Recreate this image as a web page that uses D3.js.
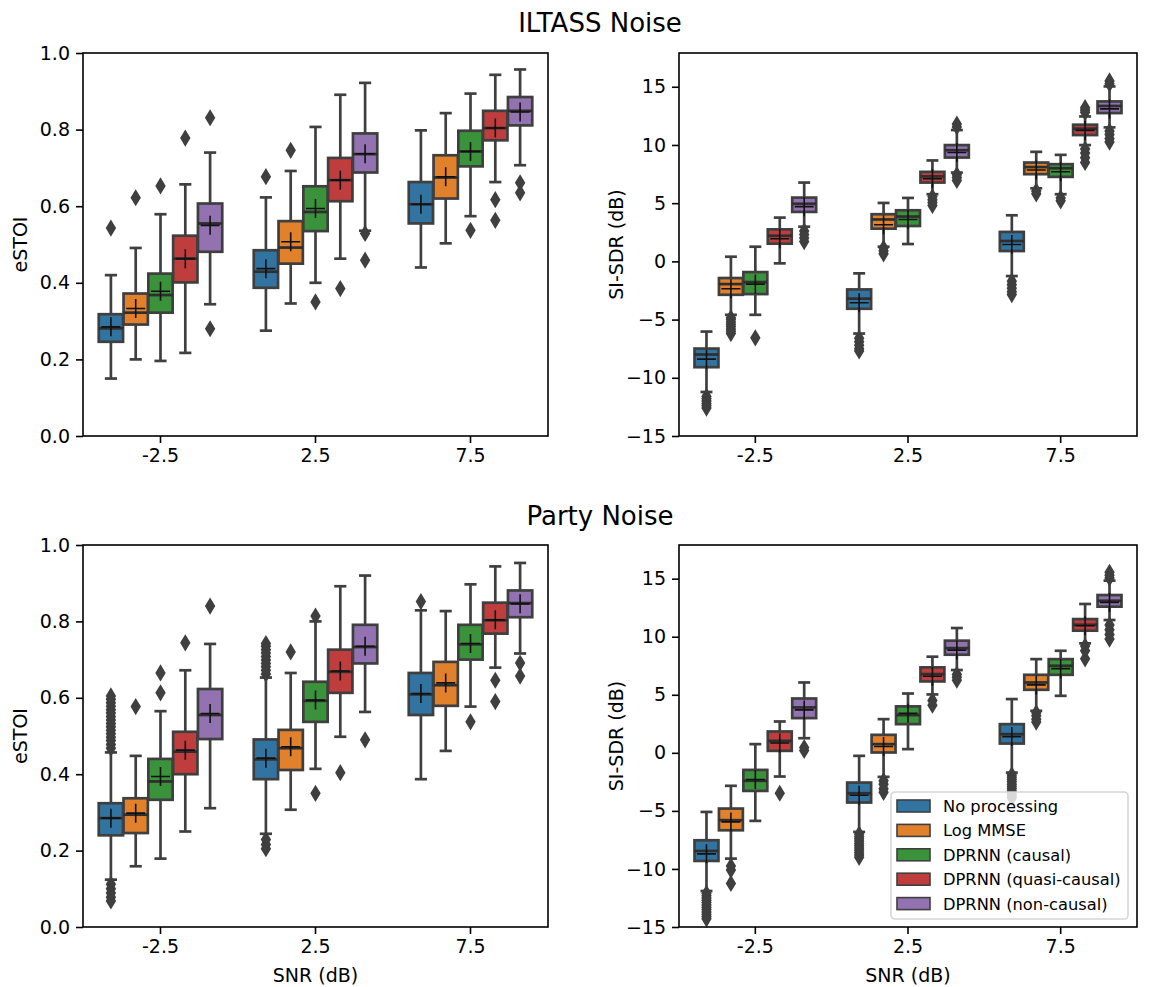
<!DOCTYPE html>
<html>
<head>
<meta charset="utf-8">
<script src="https://cdn.jsdelivr.net/npm/d3@7"></script>
<style>
  body { margin: 0; background: #fff; }
  svg { display: block; }
  text { font-family: "DejaVu Sans", sans-serif; fill: #000; }
</style>
</head>
<body>
<svg id="fig" width="1153" height="987"></svg>
<script>
// ---- categories and styling lists ----
const snrLevels = ["-2.5", "2.5", "7.5"];
const methods = ["No processing", "Log MMSE", "DPRNN (causal)", "DPRNN (quasi-causal)", "DPRNN (non-causal)"];
const methodColors = ["#3274a1", "#e1812c", "#3a923a", "#c03d3e", "#9372b2"];
const estoiTicks = [0.0, 0.2, 0.4, 0.6, 0.8, 1.0];
const sisdrTicks = [-15, -10, -5, 0, 5, 10, 15];

// ---- box statistics: [lower whisker, Q1, median, Q3, upper whisker, mean] ----
// indexed [SNR][method]
const iltassEstoi = [
  [[0.150, 0.246, 0.281, 0.318, 0.420, 0.285],
   [0.200, 0.291, 0.322, 0.372, 0.491, 0.333],
   [0.196, 0.322, 0.368, 0.424, 0.579, 0.378],
   [0.217, 0.401, 0.463, 0.523, 0.657, 0.463],
   [0.344, 0.481, 0.555, 0.607, 0.740, 0.550]],
  [[0.275, 0.387, 0.429, 0.485, 0.623, 0.437],
   [0.346, 0.450, 0.492, 0.561, 0.692, 0.507],
   [0.400, 0.535, 0.585, 0.652, 0.807, 0.594],
   [0.463, 0.613, 0.668, 0.726, 0.891, 0.668],
   [0.536, 0.688, 0.736, 0.790, 0.922, 0.737]],
  [[0.440, 0.555, 0.605, 0.663, 0.798, 0.605],
   [0.503, 0.620, 0.675, 0.733, 0.843, 0.677],
   [0.574, 0.704, 0.743, 0.797, 0.894, 0.743],
   [0.663, 0.772, 0.804, 0.849, 0.943, 0.804],
   [0.707, 0.811, 0.849, 0.885, 0.957, 0.846]]
];
const iltassEstoiFliers = [
  [[0.543], [0.622], [0.653], [0.778], [0.831, 0.280]],
  [[0.677], [0.746], [0.350], [0.385], [0.529, 0.459]],
  [[], [], [0.537], [0.617, 0.563], [0.661, 0.635]]
];

const iltassSisdr = [
  [[-11.22, -9.09, -8.00, -7.49, -6.03, -8.40],
   [-4.59, -2.87, -1.95, -1.43, 0.40, -2.35],
   [-4.59, -2.81, -1.78, -0.92, 1.26, -1.95],
   [-0.17, 1.52, 2.20, 2.75, 3.76, 1.95],
   [2.98, 4.25, 4.95, 5.48, 6.77, 4.70]],
  [[-6.20, -4.07, -3.20, -2.41, -1.03, -3.55],
   [1.26, 2.81, 3.60, 4.05, 5.02, 3.15],
   [1.49, 3.04, 3.85, 4.39, 5.45, 3.60],
   [5.77, 6.77, 7.30, 7.69, 8.67, 7.10],
   [7.63, 8.92, 9.55, 9.99, 11.28, 9.35]],
  [[-1.26, 0.89, 1.75, 2.53, 3.96, 1.45],
   [6.28, 7.49, 8.10, 8.49, 9.41, 7.85],
   [5.77, 7.26, 8.00, 8.35, 9.15, 7.70],
   [9.99, 10.85, 11.40, 11.74, 12.45, 11.25],
   [11.51, 12.74, 13.35, 13.74, 15.03, 13.10]]
];
const iltassSisdrFliers = [
  [[-11.6, -11.8, -12.0, -12.2, -12.4, -12.6],
   [-4.85, -5.0, -5.2, -5.4, -5.6, -5.8, -6.0, -6.2],
   [-6.57],
   [],
   [2.6, 2.3, 2.0, 1.7]],
  [[-6.6, -6.9, -7.2, -7.5, -7.7],
   [1.15, 0.9, 0.65],
   [],
   [5.55, 5.3, 5.05, 4.8],
   [7.45, 7.2, 6.95, 11.55, 11.8]],
  [[-1.7, -2.0, -2.3, -2.6, -2.85],
   [6.05, 5.8],
   [5.45, 5.2],
   [12.8, 13.0, 13.2, 9.65, 9.3, 8.9, 8.5],
   [15.25, 15.5, 11.2, 10.9, 10.55, 10.25]]
];

const partyEstoi = [
  [[0.124, 0.240, 0.285, 0.324, 0.457, 0.285],
   [0.159, 0.246, 0.294, 0.337, 0.448, 0.298],
   [0.179, 0.333, 0.381, 0.440, 0.565, 0.394],
   [0.250, 0.400, 0.459, 0.511, 0.672, 0.463],
   [0.311, 0.492, 0.555, 0.623, 0.741, 0.559]],
  [[0.244, 0.387, 0.439, 0.491, 0.653, 0.442],
   [0.307, 0.411, 0.468, 0.516, 0.665, 0.472],
   [0.414, 0.537, 0.592, 0.642, 0.800, 0.594],
   [0.498, 0.613, 0.668, 0.726, 0.892, 0.670],
   [0.563, 0.690, 0.733, 0.791, 0.920, 0.735]],
  [[0.387, 0.555, 0.609, 0.665, 0.829, 0.611],
   [0.461, 0.579, 0.633, 0.694, 0.827, 0.639],
   [0.577, 0.700, 0.740, 0.791, 0.897, 0.742],
   [0.679, 0.768, 0.803, 0.849, 0.944, 0.804],
   [0.716, 0.811, 0.848, 0.881, 0.953, 0.846]]
];
const partyEstoiFliers = [
  [[0.468, 0.478, 0.488, 0.497, 0.506, 0.515, 0.524, 0.533, 0.542, 0.551, 0.560, 0.569,
    0.578, 0.587, 0.596, 0.605, 0.112, 0.100, 0.089, 0.078, 0.068],
   [0.577],
   [0.613, 0.665],
   [0.744],
   [0.840]],
  [[0.662, 0.672, 0.681, 0.690, 0.699, 0.708, 0.717, 0.726, 0.735, 0.742, 0.229, 0.216, 0.205],
   [0.720],
   [0.814, 0.350],
   [0.404],
   [0.490]],
  [[0.852],
   [],
   [0.537],
   [0.646, 0.590],
   [0.691, 0.657]]
];

const partySisdr = [
  [[-11.90, -9.31, -8.45, -7.53, -5.09, -8.70],
   [-9.11, -6.67, -5.80, -4.80, -2.84, -5.95],
   [-5.86, -3.28, -2.41, -1.47, 0.75, -2.30],
   [-2.04, 0.17, 1.03, 1.84, 2.70, 0.85],
   [1.26, 2.99, 3.91, 4.68, 6.06, 3.70]],
  [[-6.81, -4.28, -3.48, -2.56, -0.26, -3.65],
   [-2.07, 0.03, 0.75, 1.55, 2.90, 0.55],
   [0.32, 2.47, 3.25, 4.00, 5.11, 3.40],
   [5.03, 6.15, 6.78, 7.36, 8.28, 6.60],
   [7.13, 8.45, 9.02, 9.66, 10.75, 8.85]],
  [[-1.70, 0.80, 1.61, 2.47, 4.63, 1.40],
   [3.62, 5.43, 6.06, 6.72, 8.07, 5.85],
   [4.91, 6.72, 7.50, 8.07, 8.79, 7.25],
   [9.43, 10.52, 11.03, 11.52, 12.82, 10.95],
   [11.44, 12.59, 13.10, 13.59, 14.83, 12.95]]
];
const partySisdrFliers = [
  [[-12.1, -12.3, -12.5, -12.7, -12.9, -13.1, -13.3, -13.5, -13.7, -13.9, -14.1, -14.3],
   [-9.75, -10.1, -11.25],
   [],
   [-3.48],
   [0.45, 0.2]],
  [[-7.0, -7.2, -7.4, -7.6, -7.8, -8.0, -8.2, -8.4, -8.6, -8.8, -9.0],
   [-2.4, -2.7, -3.1, -3.4],
   [],
   [4.5, 4.1],
   [6.75, 6.5, 6.25]],
  [[-1.9, -2.1, -2.3, -2.5, -2.7, -2.9, -3.1, -3.3, -3.5, -3.7, -3.9],
   [3.45, 3.2, 2.9, 2.65],
   [],
   [9.2, 8.8, 8.1],
   [15.05, 15.3, 15.55, 11.0, 10.6, 10.2, 9.8]]
];

// ---- drawing ----
const svg = d3.select("#fig");
const edge = "#3f3f3f";
const lw = 2.7;

function drawPanel(frame, stats, fliers, yDomain, yTicks, yFmt, yLabel, xLabel) {
  const g = svg.append("g");
  const x = d3.scaleBand().domain(snrLevels).range([frame.x0, frame.x1]);
  const dodge = d3.scaleBand().domain(methods)
    .range([-0.4 * x.bandwidth(), 0.4 * x.bandwidth()]);
  const y = d3.scaleLinear().domain(yDomain).range([frame.y1, frame.y0]);
  const boxW = dodge.bandwidth() * 0.98;
  const capW = boxW / 2;

  const items = [];
  snrLevels.forEach((s, si) => {
    methods.forEach((m, mi) => {
      items.push({ s, m, mi, st: stats[si][mi], fl: fliers[si][mi],
                   cx: x(s) + x.bandwidth() / 2 + dodge(m) + dodge.bandwidth() / 2 });
    });
  });

  const box = g.selectAll("g.box").data(items).join("g").attr("class", "box");

  // whiskers
  box.append("line")
    .attr("x1", d => d.cx).attr("x2", d => d.cx)
    .attr("y1", d => y(d.st[0])).attr("y2", d => y(d.st[1]))
    .attr("stroke", edge).attr("stroke-width", lw);
  box.append("line")
    .attr("x1", d => d.cx).attr("x2", d => d.cx)
    .attr("y1", d => y(d.st[3])).attr("y2", d => y(d.st[4]))
    .attr("stroke", edge).attr("stroke-width", lw);
  // caps
  [0, 4].forEach(k => {
    box.append("line")
      .attr("x1", d => d.cx - capW / 2).attr("x2", d => d.cx + capW / 2)
      .attr("y1", d => y(d.st[k])).attr("y2", d => y(d.st[k]))
      .attr("stroke", edge).attr("stroke-width", lw);
  });
  // box body
  box.append("rect")
    .attr("x", d => d.cx - boxW / 2).attr("width", boxW)
    .attr("y", d => y(d.st[3])).attr("height", d => y(d.st[1]) - y(d.st[3]))
    .attr("fill", d => methodColors[d.mi])
    .attr("stroke", edge).attr("stroke-width", lw);
  // median
  box.append("line")
    .attr("x1", d => d.cx - boxW / 2).attr("x2", d => d.cx + boxW / 2)
    .attr("y1", d => y(d.st[2])).attr("y2", d => y(d.st[2]))
    .attr("stroke", "#2e2e2e").attr("stroke-width", lw);
  // mean marker (+)
  const mk = 9.5;
  box.append("path")
    .attr("d", d => {
      const my = y(d.st[5]);
      return `M${d.cx - mk},${my}H${d.cx + mk}M${d.cx},${my - mk}V${my + mk}`;
    })
    .attr("stroke", "#111").attr("stroke-width", 1.6).attr("fill", "none");
  // outliers (thin diamonds)
  box.each(function (d) {
    d3.select(this).selectAll("path.flier").data(d.fl).join("path")
      .attr("class", "flier")
      .attr("d", v => {
        const py = y(v), hw = 5.2, hh = 8.6;
        return `M${d.cx},${py - hh}L${d.cx + hw},${py}L${d.cx},${py + hh}L${d.cx - hw},${py}Z`;
      })
      .attr("fill", edge);
  });

  // frame
  g.append("rect")
    .attr("x", frame.x0).attr("y", frame.y0)
    .attr("width", frame.x1 - frame.x0).attr("height", frame.y1 - frame.y0)
    .attr("fill", "none").attr("stroke", "#000").attr("stroke-width", 1.6);

  // axes
  const ax = g.append("g").attr("transform", `translate(0,${frame.y1})`)
    .call(d3.axisBottom(x).tickSize(7).tickSizeOuter(0).tickPadding(6));
  const ay = g.append("g").attr("transform", `translate(${frame.x0},0)`)
    .call(d3.axisLeft(y).tickValues(yTicks).tickFormat(yFmt).tickSize(7).tickSizeOuter(0).tickPadding(6));
  [ax, ay].forEach(a => {
    a.select(".domain").remove();
    a.selectAll(".tick line").attr("stroke", "#000").attr("stroke-width", 1.6);
    a.selectAll(".tick text").attr("font-size", 19).attr("font-family", "DejaVu Sans").attr("fill", "#000");
  });

  g.append("text")
    .attr("transform", `translate(${frame.x0 - 56},${(frame.y0 + frame.y1) / 2}) rotate(-90)`)
    .attr("text-anchor", "middle").attr("font-size", 19)
    .text(yLabel);
  if (xLabel) {
    g.append("text")
      .attr("x", (frame.x0 + frame.x1) / 2).attr("y", frame.y1 + 55)
      .attr("text-anchor", "middle").attr("font-size", 19)
      .text(xLabel);
  }
  return g;
}

const fmt1 = d3.format(".1f");
const fmt0 = d3.format("d");

drawPanel({ x0: 83, x1: 548, y0: 53, y1: 436 }, iltassEstoi, iltassEstoiFliers,
          [0, 1], estoiTicks, fmt1, "eSTOI", null);
drawPanel({ x0: 679, x1: 1137, y0: 53, y1: 436 }, iltassSisdr, iltassSisdrFliers,
          [-15, 17.9], sisdrTicks, fmt0, "SI-SDR (dB)", null);
drawPanel({ x0: 83, x1: 548, y0: 545, y1: 927 }, partyEstoi, partyEstoiFliers,
          [0, 1], estoiTicks, fmt1, "eSTOI", "SNR (dB)");
drawPanel({ x0: 679, x1: 1137, y0: 545, y1: 927 }, partySisdr, partySisdrFliers,
          [-15, 17.9], sisdrTicks, fmt0, "SI-SDR (dB)", "SNR (dB)");

// row titles
svg.append("text").attr("x", 600).attr("y", 32).attr("text-anchor", "middle")
  .attr("font-family", "Liberation Sans").attr("font-size", 26).text("ILTASS Noise");
svg.append("text").attr("x", 600).attr("y", 525).attr("text-anchor", "middle")
  .attr("font-family", "Liberation Sans").attr("font-size", 26).text("Party Noise");

// legend in the lower right panel
const leg = svg.append("g").attr("transform", "translate(891,792)");
leg.append("rect").attr("width", 237).attr("height", 127).attr("rx", 4)
  .attr("fill", "#fff").attr("fill-opacity", 0.8)
  .attr("stroke", "#d6d6d6").attr("stroke-width", 1.6);
const row = leg.selectAll("g.row").data(methods).join("g").attr("class", "row")
  .attr("transform", (d, i) => `translate(0,${14 + i * 24.4})`);
row.append("rect").attr("x", 6).attr("y", -6).attr("width", 33).attr("height", 12)
  .attr("fill", (d, i) => methodColors[i]).attr("stroke", edge).attr("stroke-width", 1.6);
row.append("text").attr("x", 52).attr("y", 6).attr("font-size", 16.3).text(d => d);
</script>
</body>
</html>
